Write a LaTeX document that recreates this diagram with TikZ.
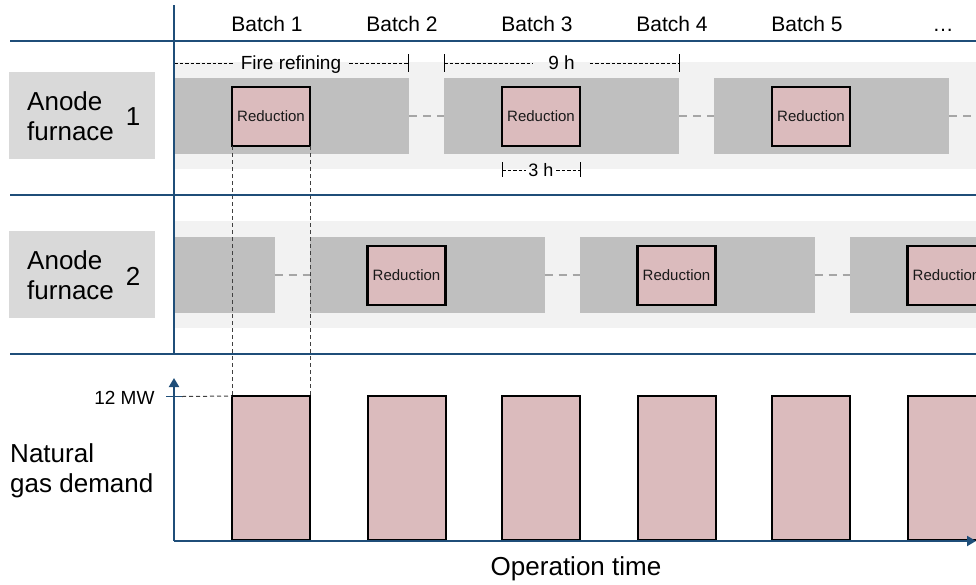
\documentclass[tikz,border=0pt]{standalone}
\usepackage{fontspec}
\setmainfont{Liberation Sans}
\usetikzlibrary{arrows.meta}

\definecolor{axisblue}{HTML}{1F4E79}
\definecolor{bandgray}{HTML}{F2F2F2}
\definecolor{stagegray}{HTML}{BFBFBF}
\definecolor{labelgray}{HTML}{D9D9D9}
\definecolor{redpink}{HTML}{DBBBBD}
\definecolor{linkgray}{HTML}{A6A6A6}
\definecolor{guidegray}{HTML}{404040}

\newcommand\fsz[2]{\fontsize{#1}{#2}\selectfont}

\begin{document}
\begin{tikzpicture}[x=1pt,y=-1pt,
  blk/.style={anchor=north west, inner sep=0pt, outer sep=0pt},
  band/.style={blk, fill=bandgray, minimum width=802, minimum height=107},
  stagebox/.style={blk, fill=stagegray, minimum width=235, minimum height=76},
  redbox/.style={blk, fill=redpink, draw=black, line width=2.2pt,
    minimum width=78, minimum height=59, font=\fsz{15}{18}, text=black!90},
  demandbar/.style={blk, fill=redpink, draw=black, line width=2pt,
    minimum width=78, minimum height=144},
  labelbox/.style={blk, fill=labelgray, minimum width=146, minimum height=87},
  link/.style={linkgray, line width=2pt, dash pattern=on 8pt off 6pt},
  guide/.style={guidegray, line width=1pt, dash pattern=on 4pt off 3pt},
  dimline/.style={black, line width=0.8pt, dash pattern=on 3.5pt off 2pt},
  dimtick/.style={black, line width=1pt},
  sepline/.style={axisblue, line width=2pt},
  axisline/.style={axisblue, line width=2pt, -{Triangle[length=9pt,width=10pt]}},
  batch/.style={anchor=base, font=\fsz{21}{25}},
  dimtext/.style={anchor=base, font=\fsz{19}{22}, inner xsep=8pt},
  rowlabel/.style={anchor=west, align=left, font=\fsz{26}{30}},
]
\useasboundingbox (0,0) rectangle (976,584);
\clip (0,0) rectangle (976,584);

% furnace lanes
\node[band] (lane1) at (174,62) {};
\node[band] (lane2) at (174,221) {};

% furnace 1 stages
\node[stagebox] (s11) at (174,78) {};
\node[stagebox] (s12) at (444,78) {};
\node[stagebox] (s13) at (714,78) {};
\coordinate (e1) at (990,116);
\draw[link] (s11.east) -- (s12.west);
\draw[link] (s12.east) -- (s13.west);
\draw[link] (s13.east) -- (e1);

% furnace 2 stages
\node[stagebox, minimum width=100.5] (s20) at (174,237) {};
\node[stagebox] (s21) at (309.5,237) {};
\node[stagebox] (s22) at (579.5,237) {};
\node[stagebox] (s23) at (849.5,237) {};
\draw[link] (s20.east) -- (s21.west);
\draw[link] (s21.east) -- (s22.west);
\draw[link] (s22.east) -- (s23.west);

% reduction phases
\node[redbox] (r11) at (232,87) {Reduction};
\node[redbox] (r12) at (502,87) {Reduction};
\node[redbox] (r13) at (772,87) {Reduction};
\node[redbox] (r21) at (367.5,246) {Reduction};
\node[redbox] (r22) at (637.5,246) {Reduction};
\node[redbox] (r23) at (907.5,246) {Reduction};

% batch headings
\node[batch] (b1) at (267,31) {Batch 1};
\node[batch] (b2) at (402,31) {Batch 2};
\node[batch] (b3) at (537,31) {Batch 3};
\node[batch] (b4) at (672,31) {Batch 4};
\node[batch] (b5) at (807,31) {Batch 5};
\node[batch] (b6) at (943,31) {\dots};

% duration markers
\coordinate (fr0) at (174,63);
\coordinate (fr1) at (408,63);
\coordinate (fr1t) at (408,54);
\coordinate (fr1b) at (408,72);
\node[dimtext] (frt) at (291,69.5) {Fire refining};
\draw[dimline] (fr0) -- (fr0 -| frt.west);
\draw[dimline] (frt.east |- fr1) -- (fr1);
\draw[dimtick] (fr1t) -- (fr1b);

\coordinate (nh0) at (444,63);
\coordinate (nh1) at (679,63);
\coordinate (nh0t) at (444,54);
\coordinate (nh0b) at (444,72);
\coordinate (nh1t) at (679,54);
\coordinate (nh1b) at (679,72);
\node[dimtext, inner xsep=15pt] (nht) at (561.5,69.5) {9 h};
\draw[dimline] (nh0) -- (nh0 -| nht.west);
\draw[dimline] (nht.east |- nh1) -- (nh1);
\draw[dimtick] (nh0t) -- (nh0b);
\draw[dimtick] (nh1t) -- (nh1b);

\coordinate (th0) at (502,170);
\coordinate (th1) at (580,170);
\coordinate (th0t) at (502,162);
\coordinate (th0b) at (502,177);
\coordinate (th1t) at (580,162);
\coordinate (th1b) at (580,177);
\node[dimtext, font=\fsz{18}{21}, inner xsep=2.5pt] (tht) at (541,176) {3 h};
\draw[dimline] (th0) -- (th0 -| tht.west);
\draw[dimline] (tht.east |- th1) -- (th1);
\draw[dimtick] (th0t) -- (th0b);
\draw[dimtick] (th1t) -- (th1b);

% natural gas demand
\node[demandbar] (d1) at (232,396) {};
\node[demandbar] (d2) at (367.5,396) {};
\node[demandbar] (d3) at (502,396) {};
\node[demandbar] (d4) at (637.5,396) {};
\node[demandbar] (d5) at (772,396) {};
\node[demandbar] (d6) at (907.5,396) {};

\draw[guide] (r11.south west) -- (d1.north west);
\draw[guide] (r11.south east) -- (d1.north east);

% axes and grid lines
\coordinate (vtop) at (174,5);
\coordinate (vbot) at (174,353.5);
\coordinate (orig) at (174,541);
\coordinate (ytop) at (174,378);
\coordinate (xend) at (976,541);
\coordinate (tk0) at (166,396.5);
\coordinate (tk1) at (182,396.5);
\draw[guide] (tk1) -- (d1.north west);
\draw[sepline] (vtop) -- (vbot);
\coordinate (h1a) at (10,40.5);
\coordinate (h1b) at (976,40.5);
\coordinate (h2a) at (10,195);
\coordinate (h2b) at (976,195);
\coordinate (h3a) at (10,353.5);
\coordinate (h3b) at (976,353.5);
\draw[sepline] (h1a) -- (h1b);
\draw[sepline] (h2a) -- (h2b);
\draw[sepline] (h3a) -- (h3b);
\draw[axisline] (orig) -- (ytop);
\draw[axisline] (orig) -- (xend);
\draw[sepline, line width=1.6pt] (tk0) -- (tk1);

\node[anchor=base east, font=\fsz{19}{22}] (mw) at (158,404) {12 MW};
\node[anchor=base, font=\fsz{26}{30}] (xlab) at (576,575) {Operation time};

% row labels
\node[labelbox] (lb1) at (9,72) {};
\node[labelbox] (lb2) at (9,231) {};
\node[rowlabel] (lt1) at (23.7,116) {Anode\\furnace};
\node[font=\fsz{26}{30}] (ln1) at (133,117) {1};
\node[rowlabel] (lt2) at (23.7,275) {Anode\\furnace};
\node[font=\fsz{26}{30}] (ln2) at (133,276) {2};
\node[rowlabel] (gas) at (6.7,471) {Natural\\gas demand};
\end{tikzpicture}
\end{document}
